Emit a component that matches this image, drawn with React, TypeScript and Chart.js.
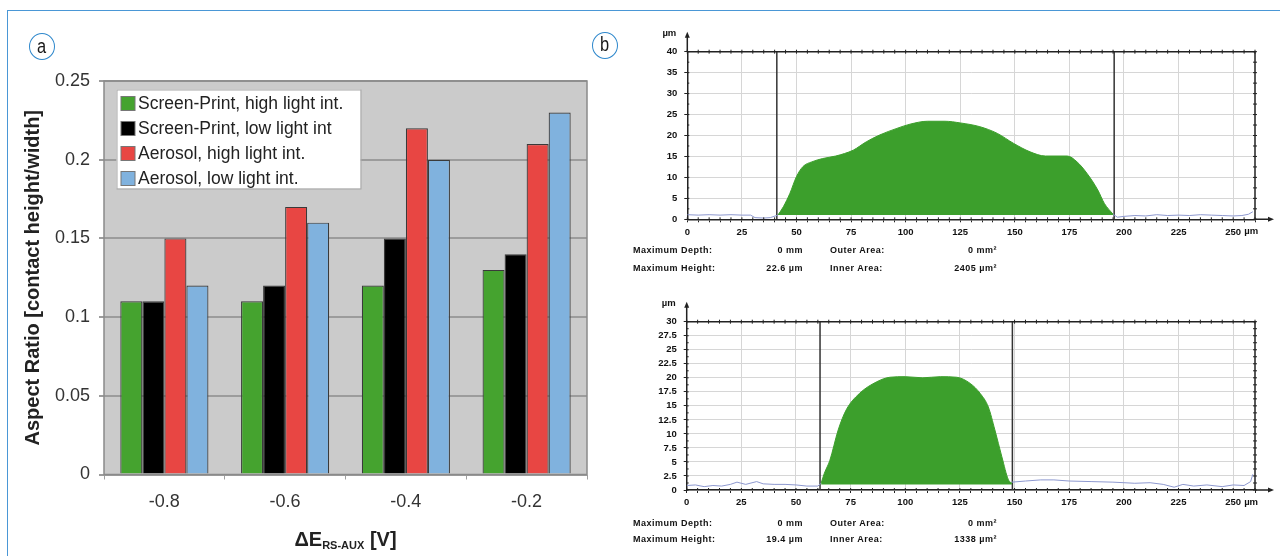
import React, { useEffect, useRef } from 'react';
import { Chart, registerables } from 'chart.js';

Chart.register(...registerables);

const FONT = "'Liberation Sans', Arial, Helvetica, sans-serif";

// ---------- Panel a data ----------
const categories = ['-0.8', '-0.6', '-0.4', '-0.2'];
const seriesNames = [
  'Screen-Print, high light int.',
  'Screen-Print, low light int',
  'Aerosol, high light int.',
  'Aerosol, low light int.',
];
const seriesColors = ['#45a32f', '#000000', '#e84643', '#80b2de'];
const screenPrintHigh = [0.11, 0.11, 0.12, 0.13];
const screenPrintLow = [0.11, 0.12, 0.15, 0.14];
const aerosolHigh = [0.15, 0.17, 0.22, 0.21];
const aerosolLow = [0.12, 0.16, 0.2, 0.23];
const yTickLabelsA = ['0', '0.05', '0.1', '0.15', '0.2', '0.25'];

// ---------- Panel b data (µm) ----------
const topGreenX = [41.5, 44, 47, 50, 53, 57, 62, 68, 72, 76, 82, 88, 96, 102, 110, 118, 125, 134, 142, 149.5, 157, 164, 174, 178.5, 183, 188, 191, 195];
const topGreenY = [1.0, 3, 6.2, 10.2, 12.6, 13.7, 14.5, 15.1, 15.7, 16.5, 18.5, 20.1, 21.7, 22.7, 23.4, 23.4, 23.0, 22.1, 20.5, 18.1, 16.1, 15.1, 15.1, 13.7, 11.0, 7.0, 3.8, 1.2];
const topLeftX = [0, 5, 10, 15, 20, 25, 29, 31, 35, 38, 41.5];
const topLeftY = [1.1, 1.0, 1.1, 1.0, 1.1, 1.0, 1.0, 0.4, 0.3, 0.4, 1.0];
const topRightX = [195, 197, 200, 205, 210, 215, 220, 225, 230, 235, 240, 245, 250, 254, 257, 259];
const topRightY = [1.2, 0.5, 0.7, 0.9, 0.8, 1.1, 0.9, 1.0, 0.9, 1.1, 1.0, 0.9, 0.8, 0.9, 1.2, 1.8];
const topCursors = [41, 195.5];

const botGreenX = [61.5, 63, 65.5, 69.3, 73, 79, 87, 93, 100, 108, 116, 123.5, 129.7, 134.3, 138, 141, 144.2, 147.2, 148.8];
const botGreenY = [1.2, 3, 5.3, 10.7, 14.3, 17.2, 19.3, 20.1, 20.2, 20.0, 20.2, 20.1, 19.0, 17.2, 14.8, 10.7, 5.9, 1.8, 1.2];
const botLeftX = [0, 4, 8, 12, 16, 20, 23, 27, 32, 35, 40, 45, 50, 55, 60, 61.5];
const botLeftY = [0.8, 0.9, 0.6, 0.8, 0.7, 1.0, 1.4, 1.0, 1.5, 1.1, 1.0, 1.0, 0.9, 0.7, 0.7, 1.2];
const botRightX = [148.8, 155, 162, 168, 175, 185, 195, 205, 212, 218, 223, 227, 232, 238, 245, 250, 255, 258, 259];
const botRightY = [1.4, 1.6, 1.8, 1.8, 1.6, 1.5, 1.4, 1.2, 1.3, 1.0, 0.5, 1.0, 0.7, 0.9, 0.6, 0.9, 0.8, 1.5, 2.8];
const botCursors = [61, 149];

const statLabels = ['Maximum Depth:', 'Outer Area:', 'Maximum Height:', 'Inner Area:'];
const statsTopValues = ['0 mm', '0 mm²', '22.6 µm', '2405 µm²'];
const statsBottomValues = ['0 mm', '0 mm²', '19.4 µm', '1338 µm²'];

const zip = (xs: number[], ys: number[]) => xs.map((x, i) => ({ x, y: ys[i] }));

// ---------- Panel a plugins ----------
const plotBgPlugin = {
  id: 'plotBg',
  beforeDraw(chart: any) {
    const { ctx, chartArea: a } = chart;
    ctx.save();
    ctx.fillStyle = '#cbcbcb';
    ctx.fillRect(a.left, a.top, a.right - a.left, a.bottom - a.top);
    ctx.restore();
  },
  afterDatasetsDraw(chart: any) {
    const { ctx, chartArea: a } = chart;
    ctx.save();
    ctx.strokeStyle = '#8a8a8a';
    ctx.lineWidth = 1.5;
    ctx.strokeRect(a.left, a.top, a.right - a.left, a.bottom - a.top);
    ctx.restore();
  },
};

const insideLegendPlugin = {
  id: 'insideLegend',
  afterDraw(chart: any) {
    const { ctx, chartArea: a } = chart;
    const lx = a.left + 12.5;
    const ly = a.top + 8.5;
    const lw = 244;
    const lh = 99;
    ctx.save();
    ctx.fillStyle = '#ffffff';
    ctx.fillRect(lx, ly, lw, lh);
    ctx.strokeStyle = '#a8a8a8';
    ctx.lineWidth = 1;
    ctx.strokeRect(lx + 0.5, ly + 0.5, lw, lh);
    ctx.font = `17.5px ${FONT}`;
    ctx.textBaseline = 'middle';
    ctx.textAlign = 'left';
    chart.data.datasets.forEach((ds: any, i: number) => {
      const cy = ly + 14 + i * 25;
      ctx.fillStyle = ds.backgroundColor;
      ctx.fillRect(lx + 4.5, cy - 7, 14, 14);
      ctx.strokeStyle = '#777';
      ctx.strokeRect(lx + 4.5, cy - 7, 14, 14);
      ctx.fillStyle = '#222';
      ctx.fillText(ds.label, lx + 21.5, cy + 1);
    });
    ctx.restore();
  },
};

const xTitlePlugin = {
  id: 'xTitleSub',
  afterDraw(chart: any) {
    const { ctx, chartArea: a } = chart;
    const big = `bold 20px ${FONT}`;
    const small = `bold 11px ${FONT}`;
    const p1 = 'ΔE';
    const p2 = 'RS-AUX';
    const p3 = ' [V]';
    ctx.save();
    ctx.fillStyle = '#222';
    ctx.textBaseline = 'alphabetic';
    ctx.textAlign = 'left';
    ctx.font = big;
    const w1 = ctx.measureText(p1).width;
    const w3 = ctx.measureText(p3).width;
    ctx.font = small;
    const w2 = ctx.measureText(p2).width;
    const total = w1 + w2 + w3;
    let x = (a.left + a.right) / 2 - total / 2;
    const base = 546;
    ctx.font = big;
    ctx.fillText(p1, x, base);
    x += w1;
    ctx.font = small;
    ctx.fillText(p2, x, base + 3);
    x += w2;
    ctx.font = big;
    ctx.fillText(p3, x, base);
    ctx.restore();
  },
};

function PanelA() {
  const ref = useRef<HTMLCanvasElement | null>(null);
  useEffect(() => {
    if (!ref.current) return;
    const seriesData = [screenPrintHigh, screenPrintLow, aerosolHigh, aerosolLow];
    const chart = new Chart(ref.current, {
      type: 'bar',
      data: {
        labels: categories,
        datasets: seriesData.map((d, i) => ({
          label: seriesNames[i],
          data: d,
          backgroundColor: seriesColors[i],
          borderColor: '#3a3a3a',
          borderWidth: 1.2,
          borderSkipped: 'bottom',
          categoryPercentage: 0.73,
          barPercentage: 1.0,
        })),
      },
      options: {
        animation: false,
        responsive: false,
        maintainAspectRatio: false,
        layout: { padding: { left: 0, right: 13, top: 81, bottom: 0 } },
        plugins: {
          legend: { display: false },
          tooltip: { enabled: false },
          title: { display: false },
        },
        scales: {
          x: {
            grid: {
              display: true,
              drawOnChartArea: false,
              drawTicks: true,
              tickLength: 5,
              color: '#a0a0a0',
              offset: true,
            },
            border: { display: false },
            ticks: { font: { family: FONT, size: 18 }, color: '#333', padding: 12 },
            afterFit: (s: any) => {
              s.height = 81.5;
            },
          },
          y: {
            min: 0,
            max: 0.25,
            ticks: {
              stepSize: 0.05,
              autoSkip: false,
              font: { family: FONT, size: 18 },
              color: '#333',
              padding: 9,
              callback: (v: any, i: number) => yTickLabelsA[i] ?? String(v),
            },
            grid: { color: '#9c9c9c', lineWidth: 2, tickLength: 5 },
            border: { display: false },
            title: {
              display: true,
              text: 'Aspect Ratio [contact height/width]',
              font: { family: FONT, size: 20, weight: 'bold' },
              color: '#222',
              padding: { top: 21, bottom: 0 },
            },
            afterFit: (s: any) => {
              s.width = 104;
            },
          },
        },
      },
      plugins: [plotBgPlugin, insideLegendPlugin, xTitlePlugin],
    } as any);
    return () => chart.destroy();
  }, []);
  return (
    <canvas
      ref={ref}
      width={600}
      height={556}
      style={{ position: 'absolute', left: 0, top: 0, width: 600, height: 556 }}
    />
  );
}

// ---------- Panel b ----------
const profileFramePlugin = {
  id: 'profileFrame',
  afterDraw(chart: any) {
    const { ctx, chartArea: a, scales } = chart;
    const xs = scales.x;
    const ys = scales.y;
    ctx.save();
    ctx.strokeStyle = '#222';
    ctx.fillStyle = '#222';
    ctx.lineWidth = 1.5;
    ctx.beginPath();
    ctx.moveTo(a.left, a.top);
    ctx.lineTo(a.right, a.top);
    ctx.lineTo(a.right, a.bottom);
    ctx.stroke();

    ctx.lineWidth = 1;
    ctx.beginPath();
    xs.ticks.forEach((t: any) => {
      const px = xs.getPixelForValue(t.value);
      ctx.moveTo(px, a.top - 2);
      ctx.lineTo(px, a.top + 2);
      ctx.moveTo(px, a.bottom - 2);
      ctx.lineTo(px, a.bottom);
    });
    const step = ys.options.ticks.stepSize / 2;
    for (let v = ys.min; v <= ys.max + 1e-9; v += step) {
      const py = ys.getPixelForValue(v);
      ctx.moveTo(a.right - 2, py);
      ctx.lineTo(a.right + 2, py);
      ctx.moveTo(a.left, py);
      ctx.lineTo(a.left + 2, py);
    }
    ctx.stroke();

    // axis arrows
    ctx.lineWidth = 1.5;
    ctx.beginPath();
    ctx.moveTo(a.left, a.top);
    ctx.lineTo(a.left, a.top - 15);
    ctx.moveTo(a.right, a.bottom);
    ctx.lineTo(a.right + 14, a.bottom);
    ctx.stroke();
    ctx.beginPath();
    ctx.moveTo(a.left, a.top - 20);
    ctx.lineTo(a.left - 2.5, a.top - 14);
    ctx.lineTo(a.left + 2.5, a.top - 14);
    ctx.closePath();
    ctx.fill();
    ctx.beginPath();
    ctx.moveTo(a.right + 19, a.bottom);
    ctx.lineTo(a.right + 13, a.bottom - 2.5);
    ctx.lineTo(a.right + 13, a.bottom + 2.5);
    ctx.closePath();
    ctx.fill();

    // units
    ctx.fillStyle = '#111';
    ctx.font = `bold 9.5px ${FONT}`;
    ctx.textBaseline = 'middle';
    ctx.textAlign = 'right';
    ctx.fillText('µm', a.left - 11, a.top - 18);
    ctx.textAlign = 'left';
    const p250 = xs.getPixelForValue(250);
    ctx.fillText('µm', p250 + 11, a.bottom + 12.5);
    ctx.restore();
  },
};

type ProfileProps = {
  top: number;
  height: number;
  ymax: number;
  ystep: number;
  greenX: number[];
  greenY: number[];
  leftX: number[];
  leftY: number[];
  rightX: number[];
  rightY: number[];
  cursors: number[];
  padTop: number;
  yWidth: number;
  xHeight: number;
};

function ProfileChart(p: ProfileProps) {
  const ref = useRef<HTMLCanvasElement | null>(null);
  useEffect(() => {
    if (!ref.current) return;
    const green = '#3c9f2c';
    const lineBlue = '#8d98cf';
    const chart = new Chart(ref.current, {
      type: 'line',
      data: {
        datasets: [
          {
            data: zip(p.greenX, p.greenY),
            borderColor: green,
            backgroundColor: green,
            borderWidth: 1,
            pointRadius: 0,
            fill: { value: 1.0 },
            cubicInterpolationMode: 'monotone',
          },
          {
            data: zip(p.leftX, p.leftY),
            borderColor: lineBlue,
            borderWidth: 1,
            pointRadius: 0,
            fill: false,
          },
          {
            data: zip(p.rightX, p.rightY),
            borderColor: lineBlue,
            borderWidth: 1,
            pointRadius: 0,
            fill: false,
          },
          ...p.cursors.map((c) => ({
            data: [
              { x: c, y: 0 },
              { x: c, y: p.ymax },
            ],
            borderColor: '#333',
            borderWidth: 1.5,
            pointRadius: 0,
            fill: false,
          })),
        ],
      },
      options: {
        animation: false,
        responsive: false,
        maintainAspectRatio: false,
        layout: { padding: { left: 0, right: 25, top: p.padTop, bottom: 0 } },
        plugins: { legend: { display: false }, tooltip: { enabled: false } },
        scales: {
          x: {
            type: 'linear',
            min: 0,
            max: 260,
            ticks: {
              stepSize: 5,
              autoSkip: false,
              maxRotation: 0,
              font: { family: FONT, size: 9.5, weight: 'bold' },
              color: '#111',
              padding: 4,
              callback: (v: any) => (Math.round(v) % 25 === 0 ? String(v) : ''),
            },
            grid: {
              color: (ctx: any) =>
                ctx.tick && Math.round(ctx.tick.value) % 25 === 0 ? '#d6d6d6' : 'rgba(0,0,0,0)',
              tickColor: '#222',
              tickLength: 3,
              lineWidth: 1,
            },
            border: { color: '#222', width: 1.5 },
            afterFit: (s: any) => {
              s.height = p.xHeight;
            },
          },
          y: {
            min: 0,
            max: p.ymax,
            ticks: {
              stepSize: p.ystep,
              autoSkip: false,
              font: { family: FONT, size: 9.5, weight: 'bold' },
              color: '#111',
              padding: 7,
              callback: (v: any) => String(v),
            },
            grid: { color: '#d6d6d6', tickColor: '#222', tickLength: 3, lineWidth: 1 },
            border: { color: '#222', width: 1.5 },
            afterFit: (s: any) => {
              s.width = p.yWidth;
            },
          },
        },
      },
      plugins: [profileFramePlugin],
    } as any);
    return () => chart.destroy();
  }, []);
  return (
    <canvas
      ref={ref}
      width={680}
      height={p.height}
      style={{ position: 'absolute', left: 600, top: p.top, width: 680, height: p.height }}
    />
  );
}

function Circle({ letter, cx, cy }: { letter: string; cx: number; cy: number }) {
  return (
    <div
      style={{
        position: 'absolute',
        left: cx - 13,
        top: cy - 13.5,
        width: 26,
        height: 27,
        borderRadius: '50%',
        border: '1.3px solid #2f88cc',
        boxSizing: 'border-box',
        display: 'flex',
        alignItems: 'center',
        justifyContent: 'center',
        fontFamily: FONT,
        fontSize: 20,
        color: '#1a1a1a',
        lineHeight: 1,
        background: '#fff',
      }}
    >
      <span style={{ display: 'inline-block', transform: 'scaleX(0.82)', marginTop: -2 }}>{letter}</span>
    </div>
  );
}

function Stats({ y1, y2, values }: { y1: number; y2: number; values: string[] }) {
  const base: React.CSSProperties = {
    position: 'absolute',
    fontFamily: FONT,
    fontWeight: 'bold',
    fontSize: 9,
    letterSpacing: 0.5,
    color: '#111',
    lineHeight: '10px',
    whiteSpace: 'nowrap',
  };
  const row = (y: number, lab1: string, v1: string, lab2: string, v2: string) => (
    <>
      <div style={{ ...base, left: 633, top: y - 5 }}>{lab1}</div>
      <div style={{ ...base, left: 743, width: 60, textAlign: 'right', top: y - 5 }}>{v1}</div>
      <div style={{ ...base, left: 830, top: y - 5 }}>{lab2}</div>
      <div style={{ ...base, left: 917, width: 80, textAlign: 'right', top: y - 5 }}>{v2}</div>
    </>
  );
  return (
    <>
      {row(y1, statLabels[0], values[0], statLabels[1], values[1])}
      {row(y2, statLabels[2], values[2], statLabels[3], values[3])}
    </>
  );
}

export default function App() {
  return (
    <div
      style={{
        position: 'absolute',
        left: 0,
        top: 0,
        width: 1280,
        height: 556,
        background: '#fff',
        overflow: 'hidden',
      }}
    >
      <div
        style={{
          position: 'absolute',
          left: 7,
          top: 10,
          width: 1300,
          height: 600,
          borderTop: '1.5px solid #4a97d6',
          borderLeft: '1.5px solid #4a97d6',
        }}
      />
      <PanelA />
      <ProfileChart
        top={20}
        height={240}
        ymax={40}
        ystep={5}
        greenX={topGreenX}
        greenY={topGreenY}
        leftX={topLeftX}
        leftY={topLeftY}
        rightX={topRightX}
        rightY={topRightY}
        cursors={topCursors}
        padTop={31.7}
        yWidth={87.3}
        xHeight={40.7}
      />
      <ProfileChart
        top={290}
        height={230}
        ymax={30}
        ystep={2.5}
        greenX={botGreenX}
        greenY={botGreenY}
        leftX={botLeftX}
        leftY={botLeftY}
        rightX={botRightX}
        rightY={botRightY}
        cursors={botCursors}
        padTop={31.7}
        yWidth={86.7}
        xHeight={30}
      />
      <Stats y1={250} y2={267.5} values={statsTopValues} />
      <Stats y1={523} y2={539} values={statsBottomValues} />
      <Circle letter="a" cx={42} cy={46.5} />
      <Circle letter="b" cx={605} cy={45} />
    </div>
  );
}
